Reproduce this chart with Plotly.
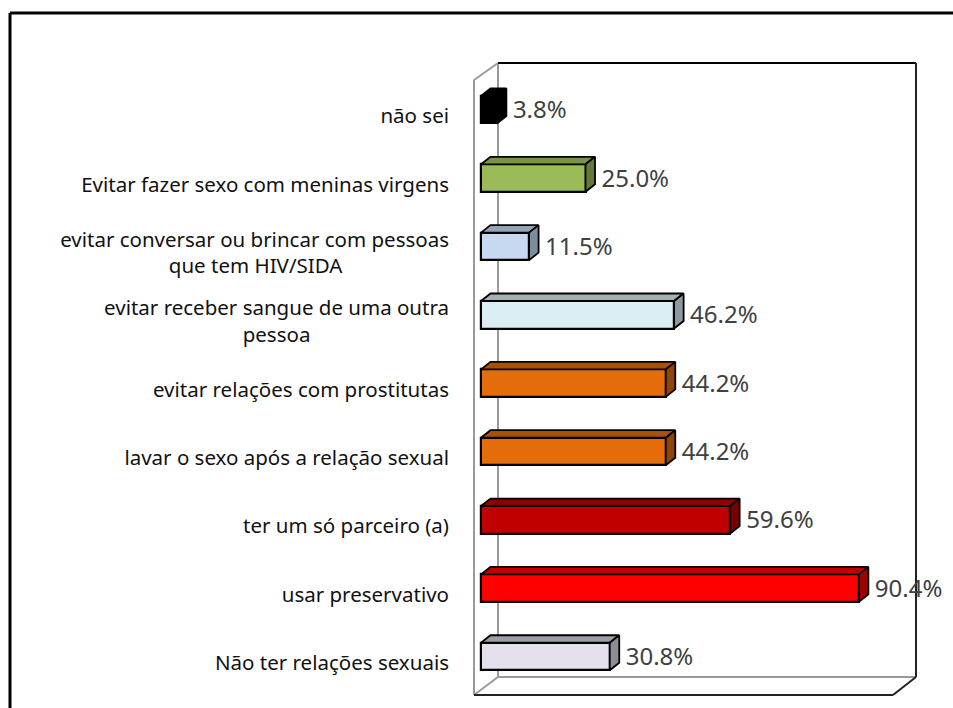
import plotly.graph_objects as go

categories = ["Não ter relações sexuais", "usar preservativo", "ter um só parceiro (a)",
              "lavar o sexo após a relação sexual", "evitar relações com prostitutas",
              "evitar receber sangue de uma outra<br>pessoa",
              "evitar conversar ou brincar com pessoas<br>que tem HIV/SIDA",
              "Evitar fazer sexo com meninas virgens", "não sei"]
values = [30.8, 90.4, 59.6, 44.2, 44.2, 46.2, 11.5, 25.0, 3.8]
value_labels = ["30.8%", "90.4%", "59.6%", "44.2%", "44.2%", "46.2%", "11.5%", "25.0%", "3.8%"]
front_colors = ["#E6E0EC", "#FF0000", "#C00000", "#E46C0A", "#E46C0A", "#DBEEF4", "#C6D9F1", "#9BBB59", "#000000"]
top_colors = ["#A09CA6", "#C00000", "#8F0000", "#A85008", "#A85008", "#A3B1B6", "#94A3B8", "#7A9444", "#000000"]
side_colors = ["#8F8C94", "#A00000", "#7A0000", "#8F4506", "#8F4506", "#8C989C", "#7E8C9F", "#64793A", "#000000"]
# trailing no-break spaces that centre the second line of wrapped labels
second_line_pad = [0, 0, 0, 0, 0, 26, 20, 0, 0]

W, H = 953, 708
L, R, T, B = 474, 916, 63, 695
PX_X = 4.18
PX_Y = 68.35
x0_px = 481
y0_px = 656.5
xr = [(L - x0_px) / PX_X, (R - x0_px) / PX_X]
yr = [(y0_px - B) / PX_Y, (y0_px - T) / PX_Y]
DX, DY = 9.5 / PX_X, 7.5 / PX_Y
BAR = 27.5 / PX_Y
LABEL_GAP = 16 / PX_X
TICK_DROP = 6.3 / PX_Y
LABEL_DROP = 2.5 / PX_Y

idx = list(range(len(categories)))
tick_text = [c + "\u00a0" * p for c, p in zip(categories, second_line_pad)]
fig = go.Figure()

# 3D faces derived from the values
for i, v in zip(idx, values):
    t, b = i + BAR / 2, i - BAR / 2
    fig.add_trace(go.Scatter(x=[0, v, v + DX, DX, 0], y=[t, t, t + DY, t + DY, t], mode="lines",
                             fill="toself", fillcolor=top_colors[i],
                             line=dict(color="#000000", width=1.8), hoverinfo="skip", showlegend=False))
    fig.add_trace(go.Scatter(x=[v, v + DX, v + DX, v, v], y=[t, t + DY, b + DY, b, t], mode="lines",
                             fill="toself", fillcolor=side_colors[i],
                             line=dict(color="#000000", width=1.8), hoverinfo="skip", showlegend=False))

fig.add_trace(go.Bar(y=idx, x=values, orientation="h", width=BAR,
                     marker=dict(color=front_colors, line=dict(color="#000000", width=2.2)),
                     showlegend=False))
fig.add_trace(go.Scatter(x=[v + LABEL_GAP for v in values], y=[i - LABEL_DROP for i in idx],
                         mode="text", text=value_labels, textposition="middle right",
                         textfont=dict(family="Noto Sans", size=24, color="#404040"),
                         cliponaxis=False, showlegend=False))


def seg(x1, y1, x2, y2, color, width=2):
    return dict(type="line", xref="paper", yref="paper",
                x0=(x1 - L) / (R - L), x1=(x2 - L) / (R - L),
                y0=(B - y1) / (B - T), y1=(B - y2) / (B - T),
                line=dict(color=color, width=width), layer="below")


GR = "#9A9A9A"
DK = "#222222"
BX, BY = 498, 677
shapes = [
    seg(L, 80, L, B, GR), seg(L, 80, BX, T, GR), seg(BX, T, BX, BY, GR),
    seg(L, B, BX, BY, GR), seg(BX, BY, R, BY, GR),
    seg(BX, T, R, T, "#000000"), seg(R, T, R, BY, DK),
    seg(L, B, 893, B, DK), seg(893, B, R, BY, DK),
    # outer frame
    seg(10, 13, 953, 13, "#000000", 3), seg(10, 13, 10, 708, "#000000", 3),
]

fig.update_layout(
    width=W, height=H, autosize=False, margin=dict(l=L, r=W - R, t=T, b=H - B),
    paper_bgcolor="#FFFFFF", plot_bgcolor="rgba(0,0,0,0)", shapes=shapes, bargap=0,
    xaxis=dict(range=xr, visible=False, fixedrange=True),
    yaxis=dict(range=yr, tickmode="array", tickvals=[i - TICK_DROP for i in idx], ticktext=tick_text,
               showgrid=False, zeroline=False, showline=False, ticks="", ticklabelstandoff=24,
               tickfont=dict(family="Noto Sans", size=20.5, color="#111111")),
)
fig.write_html("out.html", config={"displayModeBar": False},
               post_script="document.body.style.margin='0';document.body.style.overflow='hidden';")
